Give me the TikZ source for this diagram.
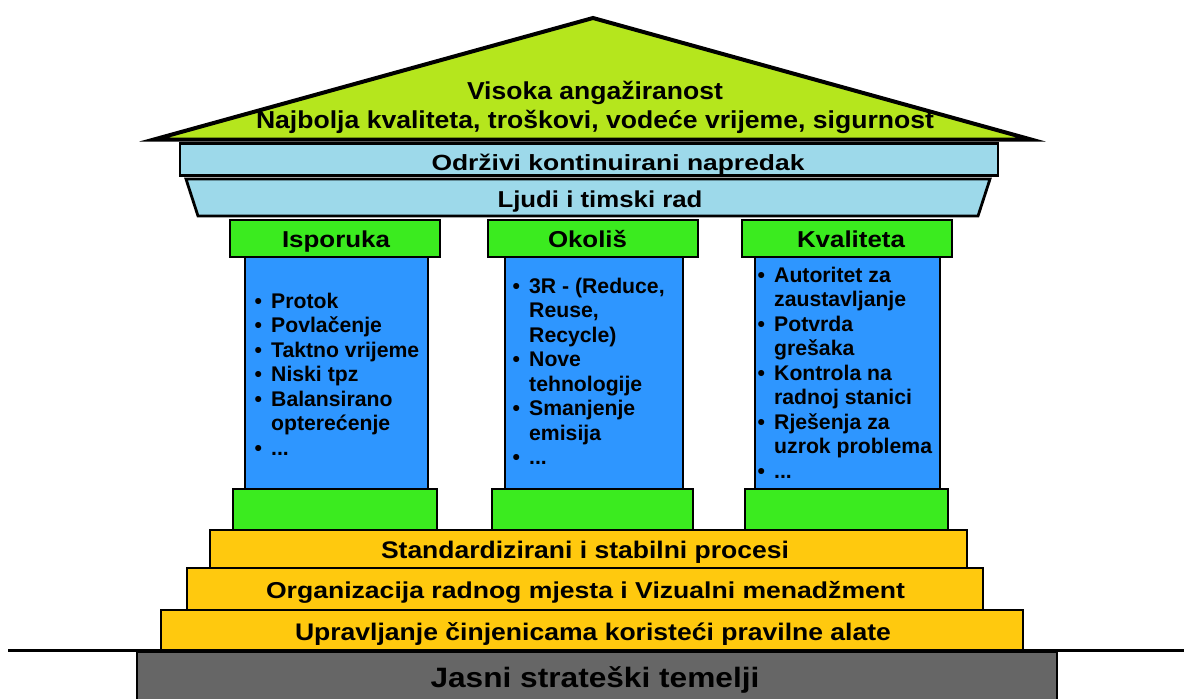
\documentclass[tikz,border=0pt]{standalone}
\usepackage{fontspec}
\setmainfont{Liberation Sans}
\usepackage{graphicx}
\newsavebox\wbox
\newcommand\fitw[2]{\sbox\wbox{#2}\pgfmathsetmacro\wr{#1/\the\wd\wbox}\scalebox{\wr}[1]{\usebox\wbox}}
\newcommand\bl{\makebox[16.5pt][l]{•}}
\newcommand\nb{\hspace*{16.5pt}}
\definecolor{roofc}{HTML}{B5E61D}
\definecolor{beamc}{HTML}{9DD9EA}
\definecolor{grn}{HTML}{3BEB1F}
\definecolor{shaftc}{HTML}{2E96FF}
\definecolor{stepc}{HTML}{FFC90E}
\definecolor{foundc}{HTML}{666666}
\tikzset{
  part/.style={draw=black, line width=2.8pt, inner sep=0pt, rectangle},
  txt/.style={inner sep=0pt, font=\bfseries},
  capbox/.style={part, fill=grn},
  shaftbox/.style={part, fill=shaftc},
  stepbox/.style={part, fill=stepc},
  lst/.style={inner sep=0pt, anchor=base west, font=\bfseries\fontsize{21.2}{24.5}\selectfont}
}
\begin{document}
\begin{tikzpicture}[x=1pt,y=-1pt]
\useasboundingbox (0,0) rectangle (1184,699);
% foundation and ground
\node[part, fill=foundc, minimum width=920pt, minimum height=60pt] (found) at (597,682) {};
\draw[line width=2.2pt] (8,650.5) coordinate (gl) -- (1184,650.5) coordinate (gr);
\node[txt, anchor=base, font=\bfseries\fontsize{28}{32}\selectfont] (tfound) at (595,687) {\fitw{329}{Jasni strateški temelji}};
% steps
\node[stepbox, minimum width=862pt, minimum height=40pt] (s3) at (592,630) {};
\node[stepbox, minimum width=796pt, minimum height=42pt] (s2) at (585,589) {};
\node[stepbox, minimum width=757pt, minimum height=38pt] (s1) at (588.5,549) {};
\node[txt, anchor=base, font=\bfseries\fontsize{24}{28}\selectfont] (ts1) at (585,558) {\fitw{408}{Standardizirani i stabilni procesi}};
\node[txt, anchor=base, font=\bfseries\fontsize{23}{28}\selectfont] (ts2) at (585.5,598) {\fitw{639}{Organizacija radnog mjesta i Vizualni menadžment}};
\node[txt, anchor=base, font=\bfseries\fontsize{24}{28}\selectfont] (ts3) at (593,640) {\fitw{596}{Upravljanje činjenicama koristeći pravilne alate}};
% columns
\node[shaftbox, minimum width=183pt, minimum height=232pt] (sh1) at (336.5,373) {};
\node[shaftbox, minimum width=178pt, minimum height=232pt] (sh2) at (594,373) {};
\node[shaftbox, minimum width=185pt, minimum height=232pt] (sh3) at (847.5,373) {};
\node[capbox, minimum width=210pt, minimum height=37pt] (c1) at (335,238.5) {};
\node[capbox, minimum width=210pt, minimum height=37pt] (c2) at (593,238.5) {};
\node[capbox, minimum width=210pt, minimum height=37pt] (c3) at (847,238.5) {};
\node[capbox, minimum width=204pt, minimum height=41pt] (b1) at (335,509.5) {};
\node[capbox, minimum width=201pt, minimum height=41pt] (b2) at (592.5,509.5) {};
\node[capbox, minimum width=203pt, minimum height=41pt] (b3) at (846.5,509.5) {};
\node[txt, anchor=base, font=\bfseries\fontsize{23}{28}\selectfont] (tc1) at (336,247) {\fitw{108}{Isporuka}};
\node[txt, anchor=base, font=\bfseries\fontsize{23}{28}\selectfont] (tc2) at (587.5,247) {\fitw{79}{Okoliš}};
\node[txt, anchor=base, font=\bfseries\fontsize{23}{28}\selectfont] (tc3) at (851,247) {\fitw{108}{Kvaliteta}};
\node[lst] (l1) at (254.5,308) {\begin{tabular}[t]{@{}l@{}}
\bl Protok\\ \bl Povlačenje\\ \bl Taktno vrijeme\\ \bl Niski tpz\\ \bl Balansirano\\ \nb opterećenje\\ \bl ...\end{tabular}};
\node[lst] (l2) at (512.5,293) {\begin{tabular}[t]{@{}l@{}}
\bl 3R - (Reduce,\\ \nb Reuse,\\ \nb Recycle)\\ \bl Nove\\ \nb tehnologije\\ \bl Smanjenje\\ \nb emisija\\ \bl ...\end{tabular}};
\node[lst] (l3) at (757.5,282) {\begin{tabular}[t]{@{}l@{}}
\bl Autoritet za\\ \nb zaustavljanje\\ \bl Potvrda\\ \nb grešaka\\ \bl Kontrola na\\ \nb radnoj stanici\\ \bl Rješenja za\\ \nb uzrok problema\\ \bl ...\end{tabular}};
% beams
\draw[part, fill=beamc] (186,179) coordinate (bm2a) -- (990,179) coordinate (bm2b) -- (978,216) coordinate (bm2c) -- (198,216) coordinate (bm2d) -- cycle;
\node[txt, anchor=base, font=\bfseries\fontsize{23}{28}\selectfont] (tb2) at (600,207) {\fitw{205}{Ljudi i timski rad}};
\node[part, fill=beamc, minimum width=818pt, minimum height=32pt] (bm1) at (589,159.5) {};
\node[txt, anchor=base, font=\bfseries\fontsize{22}{28}\selectfont] (tb1) at (618,170) {\fitw{373}{Održivi kontinuirani napredak}};
% roof
\draw[line width=4pt, line join=miter, fill=roofc] (154,139.5) coordinate (rl) -- (593,18) coordinate (rt) -- (1031,139.5) coordinate (rr) -- cycle;
\node[txt, anchor=base, font=\bfseries\fontsize{24.5}{30}\selectfont] (tr1) at (595,99) {\fitw{256}{Visoka angažiranost}};
\node[txt, anchor=base, font=\bfseries\fontsize{24.5}{30}\selectfont] (tr2) at (595,128) {\fitw{678}{Najbolja kvaliteta, troškovi, vodeće vrijeme, sigurnost}};
\end{tikzpicture}
\end{document}
